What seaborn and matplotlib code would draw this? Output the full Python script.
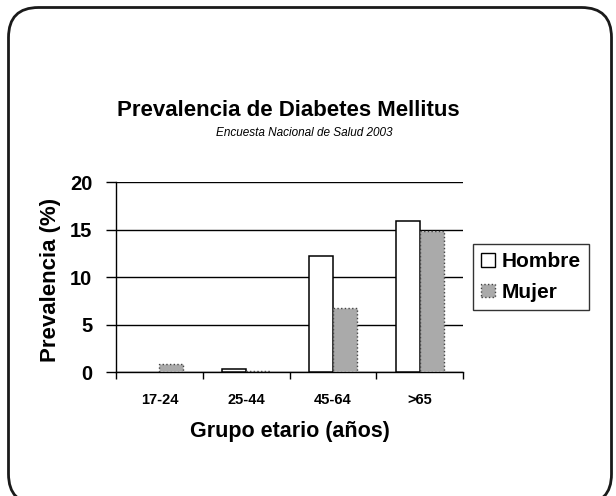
import matplotlib
matplotlib.use("Agg")
import matplotlib.pyplot as plt
from matplotlib.patches import FancyBboxPatch, Patch
from matplotlib.ticker import FixedLocator
import seaborn as sns
import pandas as pd

# Prevalence of diabetes mellitus (%) by age group and sex
grupos = ["17-24", "25-44", "45-64", ">65"]
hombre = [0.0, 0.3, 12.2, 15.9]
mujer = [0.8, 0.1, 6.8, 14.9]
sexos = ["Hombre", "Mujer"]
y_ticks = [0, 5, 10, 15, 20]

df = pd.DataFrame({
    "grupo": grupos * 2,
    "sexo": [sexos[0]] * len(grupos) + [sexos[1]] * len(grupos),
    "prevalencia": hombre + mujer,
})

sns.set_theme(style="white")
plt.rcParams["font.family"] = ["Liberation Sans", "DejaVu Sans"]
plt.rcParams["text.color"] = "black"
plt.rcParams["axes.labelcolor"] = "black"
plt.rcParams["xtick.color"] = "black"
plt.rcParams["ytick.color"] = "black"

GRIS = "#aaaaaa"

W, H = 616, 496
fig = plt.figure(figsize=(W / 100, H / 100), dpi=100)
fig.patch.set_facecolor("white")

# rounded frame around the whole slide
frame = FancyBboxPatch((0.085, -0.08), 6.03, 4.965,
                       boxstyle="round,pad=0,rounding_size=0.30",
                       transform=fig.dpi_scale_trans,
                       facecolor="none", edgecolor="#1a1a1a", linewidth=2.0,
                       zorder=0)
fig.patches.append(frame)

ax = fig.add_axes([116 / W, 1 - 372 / H, (463 - 116) / W, (372 - 182.3) / H])

sns.barplot(data=df, x="grupo", y="prevalencia", hue="sexo", order=grupos,
            hue_order=sexos, palette={"Hombre": "white", "Mujer": GRIS},
            width=0.553, gap=0, saturation=1, ax=ax, legend=True, zorder=3)

for bar in ax.containers[0]:
    bar.set_edgecolor("black")
    bar.set_linewidth(1.1 if bar.get_height() > 0 else 0)
for bar in ax.containers[1]:
    bar.set_edgecolor("#444444")
    bar.set_linewidth(1.0 if bar.get_height() > 0 else 0)
    bar.set_linestyle(":")

ax.set_xlim(-0.5, 3.5)
ax.set_ylim(0, 20)
ax.yaxis.set_major_locator(FixedLocator(y_ticks))
ax.yaxis.grid(True, color="black", linewidth=1.0, zorder=1)
ax.set_axisbelow(True)

for s in ["top", "right"]:
    ax.spines[s].set_visible(False)
for s in ["left", "bottom"]:
    ax.spines[s].set_color("black")
    ax.spines[s].set_linewidth(1.0)

ax.tick_params(axis="y", which="major", left=True, length=7, width=1,
               color="black", pad=10)
ax.tick_params(axis="x", which="major", bottom=False, length=0, pad=15)
ax.xaxis.set_minor_locator(FixedLocator([-0.5, 0.5, 1.5, 2.5, 3.5]))
ax.tick_params(axis="x", which="minor", bottom=True, length=5, width=1,
               color="black")
for lab in ax.get_yticklabels():
    lab.set_fontweight("bold")
    lab.set_fontsize(14.5)
for lab in ax.get_xticklabels():
    lab.set_fontweight("bold")
    lab.set_fontsize(10.5)

ax.set_ylabel("Prevalencia (%)", fontsize=16, fontweight="bold")
ax.yaxis.set_label_coords(-0.158, 0.485)
ax.set_xlabel("Grupo etario (años)", fontsize=15.5, fontweight="bold",
              labelpad=10)

ax.get_legend().remove()
leg_handles = [Patch(facecolor="white", edgecolor="black", linewidth=1.0),
               Patch(facecolor=GRIS, edgecolor="#444444", linewidth=1.0,
                     linestyle=":")]
leg = fig.legend(leg_handles, sexos, loc="upper left",
                 bbox_to_anchor=(473 / W, 1 - 244 / H),
                 bbox_transform=fig.transFigure, frameon=True, fancybox=False,
                 edgecolor="black", borderpad=0.4, handlelength=0.65,
                 handleheight=0.65, handletextpad=0.3, labelspacing=0.55,
                 borderaxespad=0, prop={"weight": "bold", "size": 15})
leg.get_frame().set_linewidth(1.0)

fig.text(288 / W, 1 - 111 / H, "Prevalencia de Diabetes Mellitus",
         ha="center", va="center", fontsize=16, fontweight="bold")
fig.text(304 / W, 1 - 133 / H, "Encuesta Nacional de Salud 2003",
         ha="center", va="center", fontsize=8.5, fontstyle="italic")

fig.savefig("out.png", dpi=100)
